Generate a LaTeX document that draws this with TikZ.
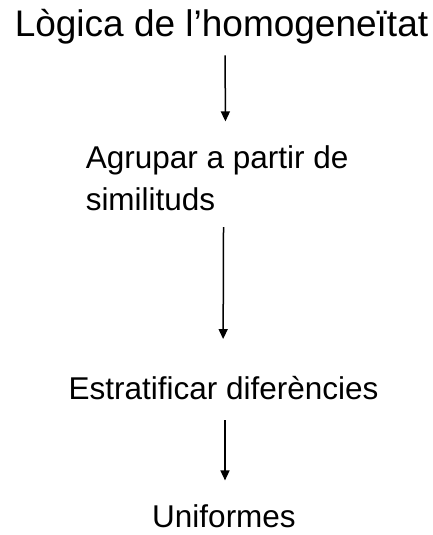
\documentclass[tikz,border=0pt]{standalone}
\usepackage{fontspec}
\setmainfont{Liberation Sans}
\usetikzlibrary{arrows.meta}

\begin{document}
\begin{tikzpicture}[x=1pt, y=-1pt, line width=1.5pt,
  stage/.style={inner sep=0pt, font=\fontsize{31.5}{37}\selectfont},
  flow/.style={-{Triangle[length=10pt,width=9pt]}}]

\useasboundingbox (0,0) rectangle (433,535);

% Stages
\node[stage, anchor=base, font=\fontsize{37}{44}\selectfont] (logic) at (221.5,37) {Lògica de l'homogeneïtat};
\node[stage, anchor=base west, align=left] (group) at (85,210) {Agrupar a partir de\\[5pt]similituds};
\node[stage, anchor=base] (strat) at (223.5,399) {Estratificar diferències};
\node[stage, anchor=base] (unif) at (224,527) {Uniformes};

% Arrows between the stages
\draw[flow, shorten <=10pt, shorten >=23pt] ([xshift=3.5pt]logic.south) -- ([xshift=8.5pt]group.north);
\draw[flow, shorten <=16pt, shorten >=36pt] ([xshift=6.5pt]group.south) -- ([xshift=-0.5pt]strat.north);
\draw[flow, shorten <=20pt, shorten >=23pt] ([xshift=1.5pt]strat.south) -- ([xshift=1pt]unif.north);

\end{tikzpicture}
\end{document}
